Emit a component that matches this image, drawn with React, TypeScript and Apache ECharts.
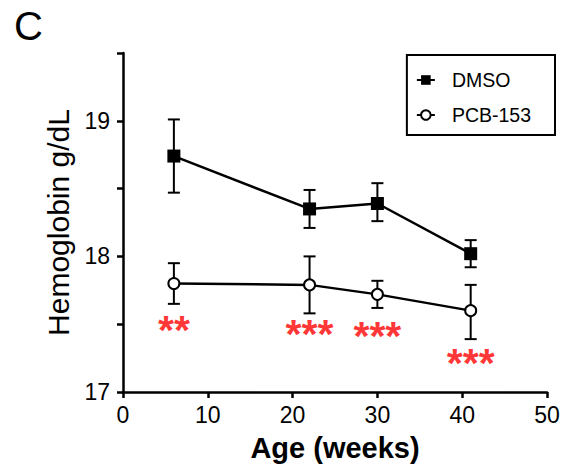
import React, { useEffect, useRef } from "react";
import * as echarts from "echarts";

const ages = [6, 22, 30, 41];
const dmsoMean = [18.74, 18.35, 18.39, 18.02];
const dmsoLow = [18.47, 18.21, 18.26, 17.92];
const dmsoHigh = [19.01, 18.49, 18.54, 18.12];
const pcbMean = [17.8, 17.79, 17.72, 17.6];
const pcbLow = [17.65, 17.58, 17.62, 17.39];
const pcbHigh = [17.95, 18.0, 17.82, 17.79];
const sigX = [6, 22, 30, 41];
const sigY = [17.49, 17.46, 17.44, 17.24];
const sigText = ["**", "***", "***", "***"];
const xTicks = [0, 10, 20, 30, 40, 50];
const yLabels = [17, 18, 19];

const FONT = "Liberation Sans, Arial, sans-serif";

function errorSeries(name: string, low: number[], high: number[]) {
  return {
    type: "custom",
    name: name + "-err",
    z: 1,
    silent: true,
    data: ages.map((x, i) => [x, low[i], high[i]]),
    renderItem: (params: any, api: any) => {
      const x = api.value(0);
      const lo = api.coord([x, api.value(1)]);
      const hi = api.coord([x, api.value(2)]);
      const hw = 6;
      const style = { stroke: "#000", lineWidth: 2 };
      return {
        type: "group",
        children: [
          { type: "line", shape: { x1: lo[0], y1: lo[1], x2: hi[0], y2: hi[1] }, style },
          { type: "line", shape: { x1: lo[0] - hw, y1: lo[1], x2: lo[0] + hw, y2: lo[1] }, style },
          { type: "line", shape: { x1: hi[0] - hw, y1: hi[1], x2: hi[0] + hw, y2: hi[1] }, style },
        ],
      };
    },
  };
}

export default function App() {
  const ref = useRef<HTMLDivElement>(null);
  useEffect(() => {
    if (!ref.current) return;
    const chart = echarts.init(ref.current, null, { renderer: "svg" });
    chart.setOption({
      animation: false,
      backgroundColor: "#fff",
      textStyle: { fontFamily: FONT },
      title: {
        text: "C",
        left: 9,
        top: 1,
        textStyle: { fontSize: 40, fontWeight: "normal", color: "#000", fontFamily: FONT },
      },
      grid: { left: 123, right: 27, top: 53, bottom: 76, containLabel: false },
      legend: {
        data: ["DMSO", "PCB-153"],
        orient: "vertical",
        right: 19,
        top: 55,
        borderColor: "#000",
        borderWidth: 2,
        padding: [15, 24, 10, 9],
        itemGap: 15,
        itemWidth: 18,
        itemHeight: 12,
        textStyle: { fontSize: 19.5, color: "#000", fontFamily: FONT, padding: [0, 0, 0, 12] },
      },
      xAxis: {
        type: "value",
        min: xTicks[0],
        max: xTicks[xTicks.length - 1],
        interval: 10,
        name: "Age (weeks)",
        nameLocation: "middle",
        nameGap: 41,
        nameTextStyle: { fontSize: 29, fontWeight: "bold", color: "#000", fontFamily: FONT },
        axisLine: { lineStyle: { color: "#000", width: 2.5 } },
        axisTick: { length: 6, lineStyle: { color: "#000", width: 2.5 } },
        axisLabel: { fontSize: 23, color: "#000", margin: 11, fontFamily: FONT },
        splitLine: { show: false },
      },
      yAxis: {
        type: "value",
        min: 17,
        max: 19.5,
        interval: 0.5,
        name: "Hemoglobin g/dL",
        nameLocation: "middle",
        nameGap: 50,
        nameRotate: 90,
        nameTextStyle: { fontSize: 30, color: "#000", fontFamily: FONT },
        axisLine: { show: true, lineStyle: { color: "#000", width: 2.5 } },
        axisTick: { show: true, length: 6, lineStyle: { color: "#000", width: 2.5 } },
        axisLabel: {
          fontSize: 23,
          color: "#000",
          margin: 13,
          fontFamily: FONT,
          formatter: (v: number) => (yLabels.includes(v) ? String(v) : ""),
        },
        splitLine: { show: false },
      },
      series: [
        errorSeries("DMSO", dmsoLow, dmsoHigh),
        errorSeries("PCB-153", pcbLow, pcbHigh),
        {
          type: "line",
          name: "DMSO",
          z: 3,
          data: ages.map((x, i) => [x, dmsoMean[i]]),
          symbol: "rect",
          symbolSize: 13,
          lineStyle: { color: "#000", width: 2.5 },
          itemStyle: { color: "#000", borderColor: "#000", borderWidth: 0 },
        },
        {
          type: "line",
          name: "PCB-153",
          z: 3,
          data: ages.map((x, i) => [x, pcbMean[i]]),
          symbol: "circle",
          symbolSize: 11,
          showSymbol: true,
          lineStyle: { color: "#000", width: 2.5 },
          itemStyle: { color: "#fff", borderColor: "#000", borderWidth: 2 },
        },
        {
          type: "scatter",
          name: "sig",
          z: 4,
          silent: true,
          symbolSize: 0,
          data: sigX.map((x, i) => ({ value: [x, sigY[i]], name: sigText[i] })),
          label: {
            show: true,
            position: "inside",
            formatter: "{b}",
            color: "#ff0000",
            fontSize: 41,
            fontWeight: "bold",
            fontFamily: FONT,
            offset: [0, 4],
          },
        },
      ],
    });
    return () => chart.dispose();
  }, []);
  return (
    <div
      ref={ref}
      style={{ position: "fixed", left: 0, top: 0, width: 574, height: 468 }}
    />
  );
}
